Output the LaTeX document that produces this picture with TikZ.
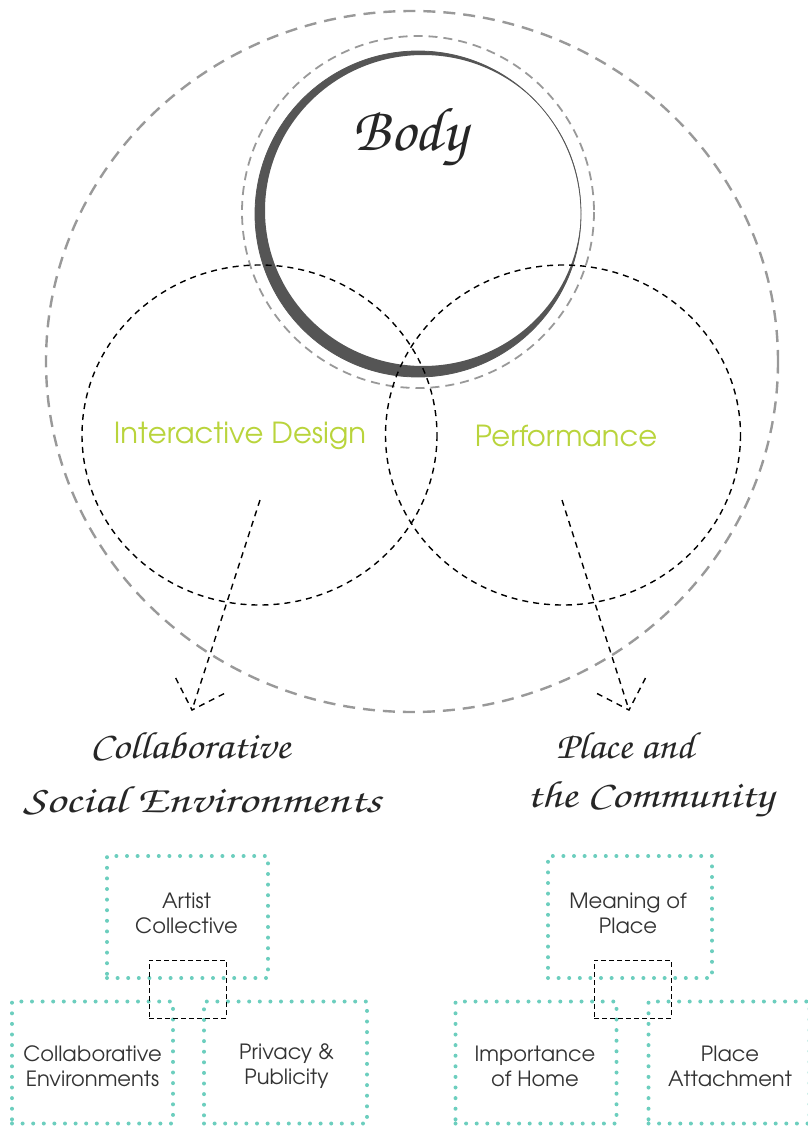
\documentclass[tikz,border=0pt]{standalone}
\usepackage[T1]{fontenc}
\usepackage{fontspec}
\usetikzlibrary{calc}

\newcommand{\handfont}{\fontencoding{T1}\fontfamily{pzc}\fontseries{mb}\fontshape{it}\selectfont}
\newcommand{\gothfont}{\fontencoding{T1}\fontfamily{pag}\fontseries{m}\fontshape{n}\selectfont}
\definecolor{limegreen}{RGB}{185,212,60}
\definecolor{boxteal}{RGB}{108,206,190}
\definecolor{brushgrey}{RGB}{85,85,85}

\begin{document}
\begin{tikzpicture}[x=1pt,y=-1pt,
  outerring/.style={draw=black!40,line width=2.4pt,dash pattern=on 12pt off 8pt},
  innerring/.style={draw=black!40,line width=1.8pt,dash pattern=on 9pt off 6pt},
  fieldring/.style={draw=black,line width=1.4pt,dash pattern=on 6pt off 5pt},
  fieldlabel/.style={text=limegreen,font=\gothfont\fontsize{29}{32}\selectfont},
  themelabel/.style={text=black!85,font=\handfont\fontsize{38}{42}\selectfont},
  topicbox/.style={draw=boxteal,line width=4pt,dash pattern=on 0pt off 10.6pt,line cap=round,
    minimum width=161pt,minimum height=122pt,inner sep=0pt},
  topictext/.style={align=center,text=black!80,font=\gothfont\fontsize{21}{25}\selectfont},
  linkbox/.style={draw=black,line width=1pt,dash pattern=on 5pt off 3pt,
    minimum width=77pt,minimum height=58pt,inner sep=0pt}]
\useasboundingbox (0,0) rectangle (807,1126);

\draw[outerring] (412,361.5) ellipse (366 and 350.5);
\draw[innerring] (418,212) circle (176);

\fill[brushgrey,even odd rule] (418,214) circle (163) (423,210.5) ellipse (158 and 155.5);
\draw[brushgrey,line width=0.8pt] (418,214) circle (163);
\node[themelabel,font=\handfont\fontsize{62}{66}\selectfont] (body) at (410,138) {Body};

\draw[fieldring] (259.5,435) ellipse (177.5 and 170);
\draw[fieldring] (563,435) ellipse (177.5 and 170);
\node[fieldlabel] (design) at (240,436) {Interactive Design};
\node[fieldlabel] (perform) at (566,436) {Performance};

\coordinate (designOut) at (260,500);
\coordinate (designTip) at (192,710);
\coordinate (performOut) at (562,500);
\coordinate (performTip) at (629,710);
\draw[fieldring] (designOut) -- (designTip);
\draw[fieldring] ($(designTip)!36pt!45:(designOut)$) -- (designTip) -- ($(designTip)!36pt!-45:(designOut)$);
\draw[fieldring] (performOut) -- (performTip);
\draw[fieldring] ($(performTip)!36pt!45:(performOut)$) -- (performTip) -- ($(performTip)!36pt!-45:(performOut)$);

\node[themelabel,xscale=1.12] (social1) at (190,745) {Collaborative};
\node[themelabel,xscale=1.29] (social2) at (202,800) {Social Environments};
\node[themelabel,xscale=1.06] (place1) at (625,745) {Place and};
\node[themelabel,xscale=1.21] (place2) at (650,800) {the Community};

\node[topicbox] (artist) at (187.5,917) {};
\node[topicbox] (collab) at (92.5,1062.5) {};
\node[topicbox,minimum width=163pt] (privacy) at (285.5,1062.5) {};
\node[linkbox] (socialLink) at (187.5,989) {};
\node[topictext] (artistText) at ($(artist)+(-1,-4)$) {Artist\\Collective};
\node[topictext] (collabText) at ($(collab)+(0,4)$) {Collaborative\\Environments};
\node[topictext] (privacyText) at ($(privacy)+(1,4)$) {Privacy \&\\Publicity};

\node[topicbox,minimum width=164pt] (meaning) at (630,917) {};
\node[topicbox] (home) at (536,1062.5) {};
\node[topicbox] (attach) at (729,1062.5) {};
\node[linkbox] (placeLink) at (632.5,989) {};
\node[topictext] (meaningText) at ($(meaning)+(-2,-4)$) {Meaning of\\Place};
\node[topictext] (homeText) at ($(home)+(-1,4)$) {Importance\\of Home};
\node[topictext] (attachText) at ($(attach)+(1,4)$) {Place\\Attachment};
\end{tikzpicture}
\end{document}
